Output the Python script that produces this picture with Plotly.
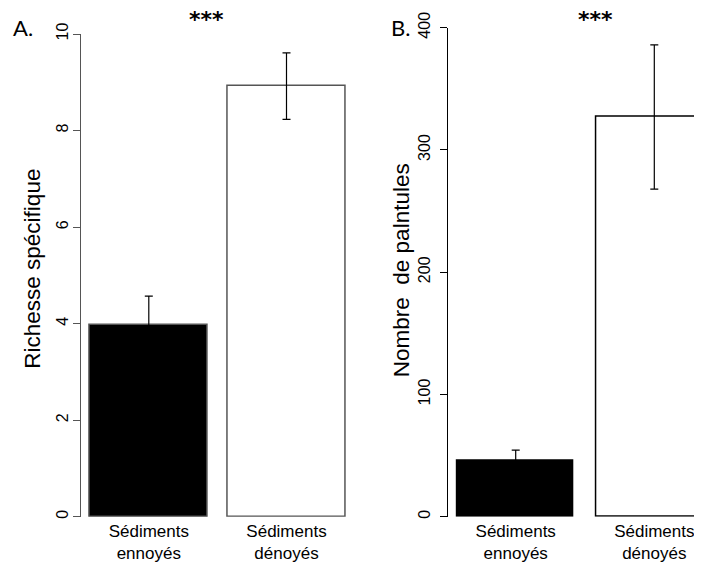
import plotly.graph_objects as go

# ---- data ----
categories = ["Sédiments<br>ennoyés", "Sédiments<br>dénoyés"]
richesse = [3.97, 8.92]
richesse_err = [0.60, 0.69]
plantules = [45.5, 327.0]
plantules_err = [9.0, 59.0]
richesse_ticks = [0, 2, 4, 6, 8, 10]
plantules_ticks = [0, 100, 200, 300, 400]
y_titles = ["Richesse spécifique", "Nombre  de palntules"]
panel_labels = ["A.", "B."]
signif = ["***", "***"]

bar_colors = ["black", "white"]
xpos = [0, 1]

# page body has an 8px default margin: lay out in screen pixels, shifted
OFF = 8
W, H = 702 - OFF, 562 - OFF
def px_x(p):
    return (p - OFF) / W
def px_y(p):
    return 1 - (p - OFF) / H

fig = go.Figure()

fig.add_trace(go.Bar(
    x=xpos, y=richesse, width=0.853,
    marker=dict(color=bar_colors, line=dict(color="#555555", width=1.5)),
    error_y=dict(type="data", array=richesse_err, color="black", thickness=1.2, width=4),
    xaxis="x", yaxis="y", showlegend=False, hoverinfo="skip",
))
fig.add_trace(go.Bar(
    x=xpos, y=plantules, width=0.837,
    marker=dict(color=bar_colors, line=dict(color="black", width=1.5)),
    error_y=dict(type="data", array=plantules_err, color="black", thickness=1.2, width=4),
    xaxis="x2", yaxis="y2", showlegend=False, hoverinfo="skip",
))
# empty trace so the label-only overlay axis of panel A is drawn
fig.add_trace(go.Scatter(x=[None], y=[None], xaxis="x", yaxis="y3",
                         showlegend=False, hoverinfo="skip"))

tickfont = dict(family="Liberation Sans, Arial", size=16, color="black")
xtickfont = dict(family="Liberation Sans, Arial", size=17, color="black")
titlefont = dict(family="Liberation Sans, Arial", size=22.5, color="black")

common_x = dict(
    showline=False, showgrid=False, zeroline=False, ticks="",
    tickvals=xpos, ticktext=categories, tickfont=xtickfont,
    ticklabelstandoff=2, fixedrange=True, automargin=False,
)
common_y = dict(
    showgrid=False, zeroline=False, showline=True, linewidth=1.3,
    ticks="outside", ticklen=7, tickwidth=1.3, tickangle=-90,
    tickfont=tickfont, fixedrange=True, automargin=False,
)

yA_domain = [px_y(516.7), px_y(34)]

fig.update_layout(
    width=W, height=H, autosize=False,
    margin=dict(l=0, r=0, t=0, b=0),
    paper_bgcolor="white", plot_bgcolor="white",
    bargap=0, showlegend=False,
    xaxis=dict(domain=[px_x(80.7), px_x(351)],
               range=[-(148.8 - 80.7) / 137.7, (351 - 148.8) / 137.7],
               anchor="y", **common_x),
    yaxis=dict(domain=yA_domain, range=[0, 10],
               tickvals=richesse_ticks, linecolor="#555555", tickcolor="#555555",
               showticklabels=False, anchor="x", **common_y),
    yaxis3=dict(overlaying="y", anchor="free", position=px_x(71.6), side="left",
                range=[0, 10], tickvals=richesse_ticks, ticks="", showline=False,
                showgrid=False, zeroline=False, tickangle=-90, tickfont=tickfont,
                fixedrange=True, automargin=False),
    xaxis2=dict(domain=[px_x(448.3), 1.0],
                range=[-(515.7 - 448.3) / 138.6, (702 - 515.7) / 138.6],
                anchor="y2", **common_x),
    yaxis2=dict(domain=[px_y(516.7), px_y(27.7)], range=[0, 400],
                tickvals=plantules_ticks, linecolor="black", tickcolor="black",
                ticklabelstandoff=4, anchor="x2", **common_y),
)

# rotated y-axis titles
for t, xp, yp in zip(y_titles, [31.7, 401.7], [269, 270.5]):
    fig.add_annotation(text=t, x=px_x(xp), y=px_y(yp), xref="paper", yref="paper",
                       showarrow=False, font=titlefont, textangle=-90,
                       xanchor="center", yanchor="middle")

labfont = dict(family="Lato, Open Sans, sans-serif", size=22, color="black")
for lab, xp in zip(panel_labels, [23, 400]):
    fig.add_annotation(text=lab, x=px_x(xp), y=px_y(28), xref="paper", yref="paper",
                       showarrow=False, font=labfont, xanchor="center", yanchor="middle")
starfont = dict(family="DejaVu Sans", size=22, color="black")
for s, xp in zip(signif, [206.5, 595]):
    fig.add_annotation(text="<b>" + s + "</b>", x=px_x(xp), y=px_y(20), xref="paper", yref="paper",
                       showarrow=False, font=starfont, xanchor="center", yanchor="middle")

fig.write_html("out.html")
